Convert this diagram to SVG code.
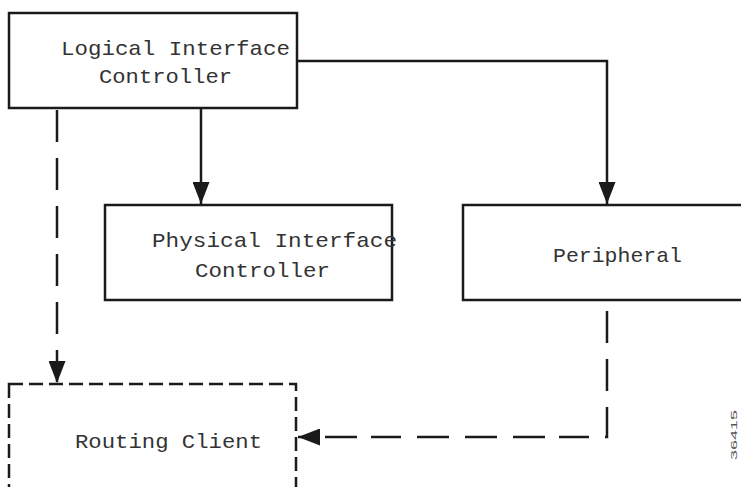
<svg xmlns="http://www.w3.org/2000/svg" width="741" height="487" viewBox="0 0 741 487">
<style>
.box{fill:#fff;stroke:#1a1a1a;stroke-width:2.5}
.dbox{fill:#fff;stroke:#1a1a1a;stroke-width:2.5;stroke-dasharray:14 6}
.lbl{font-family:"Liberation Mono","Courier New",monospace;font-size:21px;fill:#333}
.conn{fill:none;stroke:#1a1a1a;stroke-width:2.5}
.dash{stroke-dasharray:32 16}
</style>
<defs>
<marker id="ah" markerUnits="userSpaceOnUse" markerWidth="22" markerHeight="17" refX="22" refY="8.5" viewBox="0 0 22 17" orient="auto">
<path d="M0,0 L22,8.5 L0,17 Z" fill="#1a1a1a"/>
</marker>
</defs>
<rect width="741" height="487" fill="#fff"/>
<g id="connectors">
<path class="conn dash" d="M57,110 V383" marker-end="url(#ah)"/>
<path class="conn" d="M201,108 V204" marker-end="url(#ah)"/>
<path class="conn" d="M297,61 H607 V204" marker-end="url(#ah)"/>
<path class="conn dash" d="M607,311 V437 H298" marker-end="url(#ah)" style="stroke-dasharray:32 16 32 16 32 16 0 0 30 14"/>
</g>
<g id="logical">
<rect class="box" x="9" y="13" width="288" height="95"/>
<text class="lbl" x="61" y="55" textLength="229" lengthAdjust="spacingAndGlyphs">Logical Interface</text>
<text class="lbl" x="99" y="83" textLength="133" lengthAdjust="spacingAndGlyphs">Controller</text>
</g>
<g id="physical">
<rect class="box" x="105" y="205" width="287" height="95"/>
<text class="lbl" x="152" y="247" textLength="245" lengthAdjust="spacingAndGlyphs">Physical Interface</text>
<text class="lbl" x="195" y="277" textLength="135" lengthAdjust="spacingAndGlyphs">Controller</text>
</g>
<g id="peripheral">
<rect class="box" x="463" y="205" width="290" height="95"/>
<text class="lbl" x="553" y="262" textLength="129" lengthAdjust="spacingAndGlyphs">Peripheral</text>
</g>
<g id="routing">
<rect class="dbox" x="9" y="384" width="287" height="120"/>
<text class="lbl" x="75" y="448" textLength="187" lengthAdjust="spacingAndGlyphs">Routing Client</text>
</g>
<text x="737" y="460" transform="rotate(-90 737 460)" font-family="Liberation Sans, Arial, sans-serif" font-size="9" fill="#555" textLength="50" lengthAdjust="spacingAndGlyphs">36415</text>
</svg>
